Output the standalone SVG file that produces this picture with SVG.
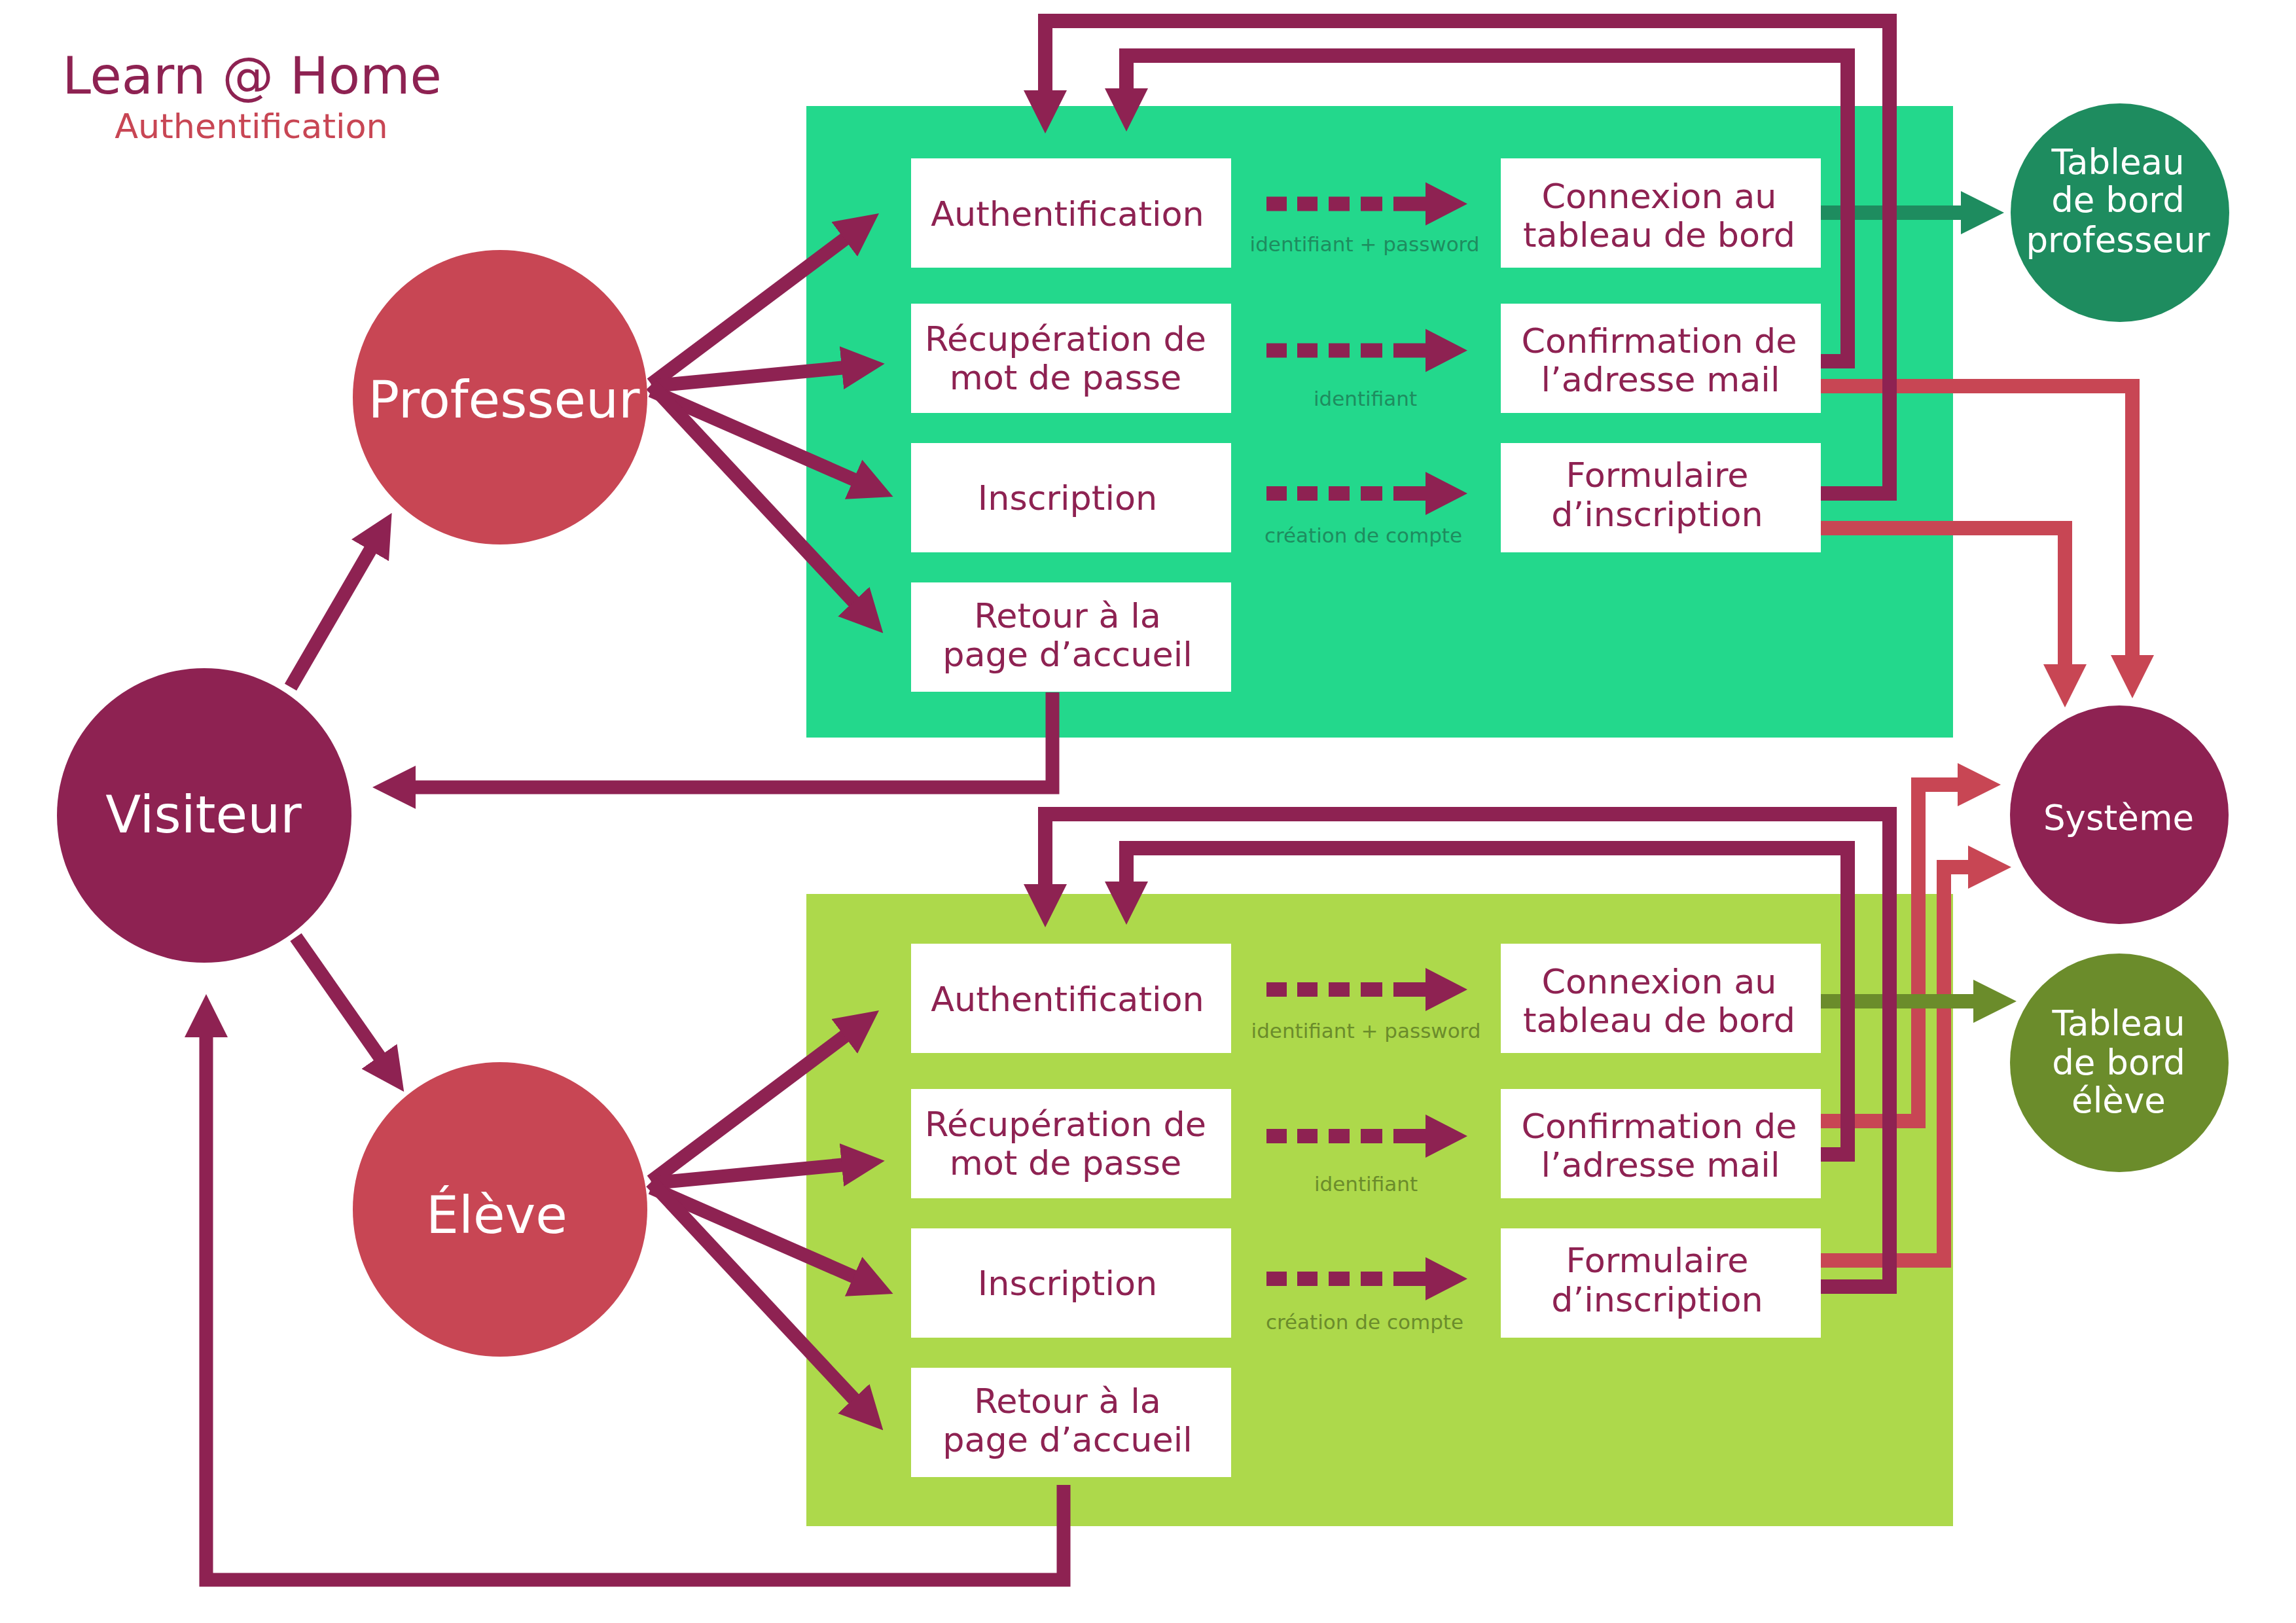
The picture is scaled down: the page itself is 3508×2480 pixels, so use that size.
<svg xmlns="http://www.w3.org/2000/svg" width="3508" height="2480" viewBox="0 0 3508 2480">
<style>
text{font-family:"DejaVu Sans","Noto Sans",sans-serif}
.bx{fill:#fff}
.bt{font-size:52.4px;fill:#8E2252;text-anchor:middle}
.l1{font-size:31px;fill:#1E8C5F;text-anchor:middle}
.l2{font-size:31px;fill:#6B8C2B;text-anchor:middle}
.big{font-size:79px;fill:#fff;text-anchor:middle}
.sm{font-size:53px;fill:#fff;text-anchor:middle}
.p{fill:none;stroke:#8E2252;stroke-width:22;stroke-linejoin:miter}
.pf{fill:none;stroke:#8E2252;stroke-width:21}
.r{fill:none;stroke:#C84654;stroke-width:22}
.g{fill:none;stroke:#1E8C5F;stroke-width:22}
.o{fill:none;stroke:#6B8C2B;stroke-width:22}
</style>
<defs>
<marker id="mp" markerUnits="userSpaceOnUse" viewBox="0 0 66 66" markerWidth="66" markerHeight="66" refX="1" refY="33" orient="auto"><path d="M0,0 L66,33 L0,66z" fill="#8E2252"/></marker>
<marker id="mr" markerUnits="userSpaceOnUse" viewBox="0 0 66 66" markerWidth="66" markerHeight="66" refX="1" refY="33" orient="auto"><path d="M0,0 L66,33 L0,66z" fill="#C84654"/></marker>
<marker id="mg" markerUnits="userSpaceOnUse" viewBox="0 0 66 66" markerWidth="66" markerHeight="66" refX="1" refY="33" orient="auto"><path d="M0,0 L66,33 L0,66z" fill="#1E8C5F"/></marker>
<marker id="mo" markerUnits="userSpaceOnUse" viewBox="0 0 66 66" markerWidth="66" markerHeight="66" refX="1" refY="33" orient="auto"><path d="M0,0 L66,33 L0,66z" fill="#6B8C2B"/></marker>
<g id="da">
<path d="M0,0 H243" fill="none" stroke="#8E2252" stroke-width="22" stroke-dasharray="31 16 31 17 32 17 33 17 49"/>
<polygon points="243,-33 307,0 243,33" fill="#8E2252"/>
</g>
</defs>

<g id="title">
<text x="385" y="143" style="font-size:78.5px;fill:#8E2252;text-anchor:middle">Learn @ Home</text>
<text x="384" y="211" style="font-size:52.4px;fill:#C84654;text-anchor:middle">Authentification</text>
</g>

<g id="panel-prof"><rect x="1232" y="162" width="1752" height="965" fill="#23D88C"/></g>
<g id="panel-eleve"><rect x="1232" y="1366" width="1752" height="966" fill="#ADD94B"/></g>

<g id="connectors">
<path class="r" d="M2782,590 H3258 V1002" marker-end="url(#mr)"/>
<path class="r" d="M2782,807 H3155 V1016" marker-end="url(#mr)"/>
<path class="r" d="M2782,1713 H2931 V1199 H2992" marker-end="url(#mr)"/>
<path class="r" d="M2782,1926 H2970 V1325 H3008" marker-end="url(#mr)"/>
<path class="g" d="M2782,325 H2997" marker-end="url(#mg)"/>
<path class="o" d="M2782,1530 H3016" marker-end="url(#mo)"/>
<path class="p" d="M2782,754 H2887 V32 H1597 V139" marker-end="url(#mp)"/>
<path class="p" d="M2782,552 H2823 V85 H1721 V136" marker-end="url(#mp)"/>
<path class="p" d="M2782,1966 H2887 V1244 H1597 V1352" marker-end="url(#mp)"/>
<path class="p" d="M2782,1764 H2823 V1296 H1721 V1348" marker-end="url(#mp)"/>
<path class="pf" d="M1608,1058 V1203 H634" marker-end="url(#mp)"/>
<path class="pf" d="M1625,2269 V2414 H315 V1584" marker-end="url(#mp)"/>
<path class="pf" d="M444,1050 L566,840" marker-end="url(#mp)"/>
<path class="pf" d="M452,1432 L580,1615" marker-end="url(#mp)"/>
<path class="pf" d="M995,587 L1291,365" marker-end="url(#mp)"/>
<path class="pf" d="M995,590 L1287,562" marker-end="url(#mp)"/>
<path class="pf" d="M995,597 L1305,733" marker-end="url(#mp)"/>
<path class="pf" d="M995,588 L1305,920" marker-end="url(#mp)"/>
<path class="pf" d="M995,1805 L1291,1583" marker-end="url(#mp)"/>
<path class="pf" d="M995,1808 L1287,1780" marker-end="url(#mp)"/>
<path class="pf" d="M995,1815 L1305,1951" marker-end="url(#mp)"/>
<path class="pf" d="M995,1806 L1305,2138" marker-end="url(#mp)"/>
<use href="#da" x="1935" y="311.5"/>
<use href="#da" x="1935" y="535.5"/>
<use href="#da" x="1935" y="754"/>
<use href="#da" x="1935" y="1512"/>
<use href="#da" x="1935" y="1736"/>
<use href="#da" x="1935" y="1954"/>
</g>

<g id="labels">
<text class="l1" x="2085" y="384">identifiant + password</text>
<text class="l1" x="2086" y="620">identifiant</text>
<text class="l1" x="2083" y="829">création de compte</text>
<text class="l2" x="2087" y="1586">identifiant + password</text>
<text class="l2" x="2087" y="1820">identifiant</text>
<text class="l2" x="2085" y="2031">création de compte</text>
</g>

<g id="p-auth"><rect class="bx" x="1392" y="242" width="489" height="167"/><text class="bt" x="1631" y="345">Authentification</text></g>
<g id="p-recup"><rect class="bx" x="1392" y="464" width="489" height="167"/><text class="bt" x="1628" y="536">Récupération de</text><text class="bt" x="1628" y="595">mot de passe</text></g>
<g id="p-insc"><rect class="bx" x="1392" y="677" width="489" height="167"/><text class="bt" x="1631" y="779">Inscription</text></g>
<g id="p-retour"><rect class="bx" x="1392" y="890" width="489" height="167"/><text class="bt" x="1631" y="959">Retour à la</text><text class="bt" x="1631" y="1018">page d’accueil</text></g>
<g id="p-connexion"><rect class="bx" x="2293" y="242" width="489" height="167"/><text class="bt" x="2535" y="318">Connexion au</text><text class="bt" x="2535" y="377">tableau de bord</text></g>
<g id="p-confirm"><rect class="bx" x="2293" y="464" width="489" height="167"/><text class="bt" x="2535" y="539">Confirmation de</text><text class="bt" x="2537" y="598">l’adresse mail</text></g>
<g id="p-form"><rect class="bx" x="2293" y="677" width="489" height="167"/><text class="bt" x="2532" y="744">Formulaire</text><text class="bt" x="2532" y="804">d’inscription</text></g>

<g id="e-auth"><rect class="bx" x="1392" y="1442" width="489" height="167"/><text class="bt" x="1631" y="1545">Authentification</text></g>
<g id="e-recup"><rect class="bx" x="1392" y="1664" width="489" height="167"/><text class="bt" x="1628" y="1736">Récupération de</text><text class="bt" x="1628" y="1795">mot de passe</text></g>
<g id="e-insc"><rect class="bx" x="1392" y="1877" width="489" height="167"/><text class="bt" x="1631" y="1979">Inscription</text></g>
<g id="e-retour"><rect class="bx" x="1392" y="2090" width="489" height="167"/><text class="bt" x="1631" y="2159">Retour à la</text><text class="bt" x="1631" y="2218">page d’accueil</text></g>
<g id="e-connexion"><rect class="bx" x="2293" y="1442" width="489" height="167"/><text class="bt" x="2535" y="1518">Connexion au</text><text class="bt" x="2535" y="1577">tableau de bord</text></g>
<g id="e-confirm"><rect class="bx" x="2293" y="1664" width="489" height="167"/><text class="bt" x="2535" y="1739">Confirmation de</text><text class="bt" x="2537" y="1798">l’adresse mail</text></g>
<g id="e-form"><rect class="bx" x="2293" y="1877" width="489" height="167"/><text class="bt" x="2532" y="1944">Formulaire</text><text class="bt" x="2532" y="2004">d’inscription</text></g>

<g id="visiteur"><circle cx="312" cy="1246" r="225" fill="#8E2252"/><text class="big" x="311" y="1272">Visiteur</text></g>
<g id="professeur"><circle cx="764" cy="607" r="225" fill="#C84654"/><text class="big" x="770" y="638">Professeur</text></g>
<g id="eleve"><circle cx="764" cy="1848" r="225" fill="#C84654"/><text class="big" x="759" y="1884">Élève</text></g>
<g id="tb-prof"><circle cx="3239" cy="325" r="167" fill="#1E8C5F"/><text class="sm" x="3236" y="266">Tableau</text><text class="sm" x="3236" y="324">de bord</text><text class="sm" x="3236" y="385">professeur</text></g>
<g id="systeme"><circle cx="3238" cy="1245" r="167" fill="#8E2252"/><text class="sm" x="3237" y="1268">Système</text></g>
<g id="tb-eleve"><circle cx="3238" cy="1624" r="167" fill="#6B8C2B"/><text class="sm" x="3237" y="1582">Tableau</text><text class="sm" x="3237" y="1642">de bord</text><text class="sm" x="3237" y="1700">élève</text></g>
</svg>
